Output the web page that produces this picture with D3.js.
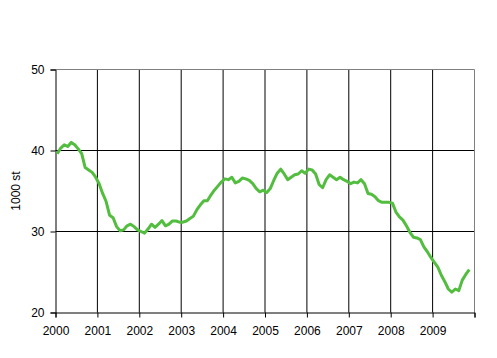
<!DOCTYPE html>
<html>
<head>
<meta charset="utf-8">
<script src="https://cdn.jsdelivr.net/npm/d3@7"></script>
<style>
  body { margin: 0; background: #fff; }
  svg text { font-family: "Liberation Sans", Arial, sans-serif; font-size: 12px; fill: #000; }
</style>
</head>
<body>
<svg id="canvas"></svg>
<script>
// monthly values, Jan 2000 - Nov 2009 (1000 st)
const values = [
  39.6, 40.3, 40.7, 40.5, 41.0, 40.7, 40.2, 39.6, 37.9, 37.6, 37.3, 36.7,
  35.9, 34.7, 33.7, 32.0, 31.7, 30.6, 30.1, 30.2, 30.7, 30.9, 30.6, 30.2,
  30.0, 29.8, 30.3, 30.9, 30.5, 30.9, 31.35, 30.7, 30.9, 31.3, 31.3, 31.15,
  31.15, 31.3, 31.6, 31.9, 32.7, 33.3, 33.8, 33.8, 34.5, 35.1, 35.6, 36.1,
  36.5, 36.4, 36.7, 36.0, 36.2, 36.6, 36.5, 36.3, 35.9, 35.3, 34.9, 35.1,
  34.8, 35.3, 36.3, 37.2, 37.7, 37.1, 36.4, 36.7, 37.0, 37.1, 37.5, 37.2,
  37.7, 37.6, 37.1, 35.8, 35.4, 36.4, 37.0, 36.7, 36.4, 36.7, 36.4, 36.2,
  35.9, 36.1, 36.0, 36.4, 35.9, 34.7, 34.6, 34.3, 33.8, 33.6, 33.6, 33.6,
  33.5, 32.4, 31.8, 31.4, 30.7, 29.9, 29.3, 29.2, 29.0, 28.1, 27.5, 26.8,
  26.2, 25.6, 24.6, 23.8, 22.9, 22.5, 22.9, 22.7, 24.0, 24.7, 25.3
]
const years = ['2000', '2001', '2002', '2003', '2004', '2005', '2006', '2007', '2008', '2009']
const yTicks = [20, 30, 40, 50]
const yTitle = '1000 st'

const w = 497
const h = 358
const plotLeft = 55.5, plotRight = 474.5, plotTop = 69.5, plotBottom = 312.5
const monthsPerYear = 12

const canvas = d3.select('#canvas').attr('width', w).attr('height', h)

const xScale = d3.scaleLinear()
                 .domain([0, years.length * monthsPerYear])
                 .range([plotLeft, plotRight])
const yScale = d3.scaleLinear()
                 .domain([20, 50])
                 .range([plotBottom, plotTop])

// horizontal gridlines (black)
canvas.selectAll('.hgrid')
      .data(yTicks.filter(t => t > 20 && t < 50))
      .enter()
      .append('line')
      .attr('x1', plotLeft).attr('x2', plotRight)
      .attr('y1', d => yScale(d)).attr('y2', d => yScale(d))
      .attr('stroke', '#000')

// vertical year gridlines
const yearIdx = d3.range(1, years.length).map(i => i * monthsPerYear)
canvas.selectAll('.vgrid')
      .data(yearIdx)
      .enter()
      .append('line')
      .attr('x1', d => xScale(d)).attr('x2', d => xScale(d))
      .attr('y1', plotTop).attr('y2', plotBottom)
      .attr('stroke', '#000')

// plot area border: grey top & right
canvas.append('path')
      .attr('d', `M${plotLeft},${plotTop}H${plotRight}V${plotBottom}`)
      .attr('fill', 'none')
      .attr('stroke', '#808080')

// y axis
const yAxis = d3.axisLeft(yScale)
                .tickValues(yTicks)
                .tickSize(5)
                .tickPadding(6)
                .tickFormat(d3.format('d'))
canvas.append('g')
      .attr('transform', `translate(${plotLeft},0)`)
      .call(yAxis)
      .call(g => g.select('.domain').attr('stroke', '#000'))
      .call(g => g.selectAll('text').attr('font-size', 12).attr('font-family', null))

// x axis (ticks at year boundaries, labels at ticks)
const xAxis = d3.axisBottom(xScale)
                .tickValues(d3.range(0, years.length + 1).map(i => i * monthsPerYear))
                .tickSize(5)
                .tickPadding(9)
                .tickFormat(d => years[d / monthsPerYear] || '')
canvas.append('g')
      .attr('transform', `translate(0,${plotBottom})`)
      .call(xAxis)
      .call(g => g.select('.domain').attr('stroke', '#000'))
      .call(g => g.selectAll('text').attr('font-size', 12).attr('font-family', null))

// y title
canvas.append('text')
      .attr('transform', `translate(20,${(plotTop + plotBottom) / 2}) rotate(-90)`)
      .attr('text-anchor', 'middle')
      .text(yTitle)

// series line, points sit between ticks
const line = d3.line()
               .x((d, i) => xScale(i + 0.5))
               .y(d => yScale(d))
canvas.append('path')
      .datum(values)
      .attr('d', line)
      .attr('fill', 'none')
      .attr('stroke', '#52bd3f')
      .attr('stroke-width', 3)
      .attr('stroke-linejoin', 'round')
</script>
</body>
</html>
